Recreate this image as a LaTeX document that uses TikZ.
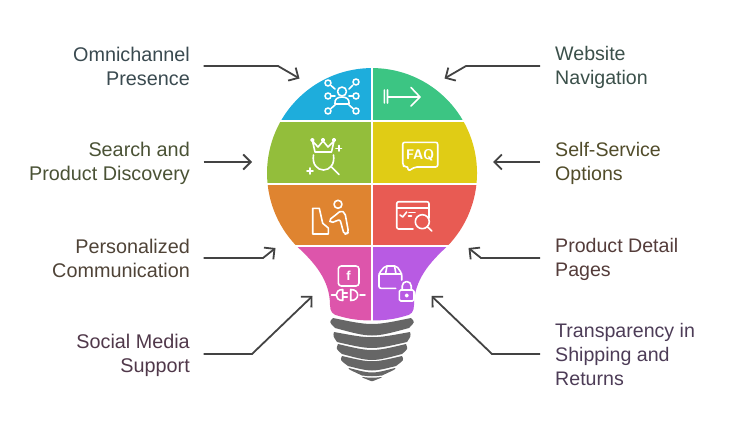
\documentclass[tikz,border=0pt]{standalone}
\usepackage{fontspec}
\setmainfont{Liberation Sans}
\usetikzlibrary{arrows.meta}
\definecolor{cellblue}{HTML}{1EADDC}
\definecolor{cellgreen}{HTML}{3CC583}
\definecolor{cellolive}{HTML}{93BE3B}
\definecolor{cellyellow}{HTML}{E0CC15}
\definecolor{cellorange}{HTML}{DF8430}
\definecolor{cellred}{HTML}{E85B53}
\definecolor{cellpink}{HTML}{DD55AB}
\definecolor{cellpurple}{HTML}{B85BE3}
\definecolor{basegrey}{HTML}{666666}
\definecolor{arrowgrey}{HTML}{434343}
\definecolor{textomni}{HTML}{3A4A50}
\definecolor{textsearch}{HTML}{4A5235}
\definecolor{textpersonal}{HTML}{4F4337}
\definecolor{textsocial}{HTML}{50384A}
\definecolor{textweb}{HTML}{3B504A}
\definecolor{textself}{HTML}{514C2A}
\definecolor{textdetail}{HTML}{543C3A}
\definecolor{textship}{HTML}{4D3C57}
\newcommand{\ls}{\rule[-3pt]{0pt}{20pt}}
\tikzset{
  leftlabel/.style={anchor=east,align=right,inner xsep=13.5pt,inner ysep=0pt,font=\fontsize{19.8}{24}\selectfont},
  rightlabel/.style={anchor=west,align=left,inner xsep=15pt,inner ysep=0pt,font=\fontsize{19.6}{24}\selectfont},
  pointer/.style={arrowgrey,line width=1.8pt,-{Straight Barb[length=7.5pt,width=15pt,line width=1.8pt]}},
  icon/.style={white,line width=1.6pt,line cap=round,line join=round}
}
\begin{document}
\begin{tikzpicture}[x=1pt,y=-1pt]
\useasboundingbox (0,0) rectangle (732,439);

%%% BULB CELLS %%%
\begin{scope}
\clip (296.5,246) arc[start angle=136,end angle=404,radius=105]
  .. controls (430,262) and (414,280) .. (414,305)
  .. controls (414,312) and (411,315) .. (405,316)
  .. controls (395,319) and (385,320.5) .. (372,320.5)
  .. controls (359,320.5) and (349,319) .. (339,316)
  .. controls (333,315) and (330,312) .. (330,305)
  .. controls (330,280) and (314,262) .. (296.5,246);
\foreach \x/\y/\w/\h/\c in {
  260/60/111/60/cellblue, 373/60/111/60/cellgreen,
  260/122/111/61/cellolive, 373/122/111/61/cellyellow,
  260/185/111/60/cellorange, 373/185/111/60/cellred,
  260/247/111/78/cellpink, 373/247/111/78/cellpurple}{
\fill[\c] (\x,\y) rectangle ++(\w,\h);
}
\end{scope}

%%% BASE %%%
\foreach \wa/\ta/\ca/\wm/\ym/\wb/\tb/\cb in {
  39/318/326/43/322/37/328/338,
  38/332/339/39/336/35/342/350,
  34/344/352/36/349/30/354/362,
  30/356/363/32/360/24/366/372,
  23/368/374/24/369/10/375.5/376.5,
  10/377/378/10/377.5/1/381/381}{
\fill[basegrey] ({372-\wa},\ta) .. controls (372,\ca) .. ({372+\wa},\ta)
  .. controls ({372+\wm},\ym) .. ({372+\wb},\tb)
  .. controls (372,\cb) .. ({372-\wb},\tb)
  .. controls ({372-\wm},\ym) .. cycle;
}

%%% LABELS %%%
\node[leftlabel,text=textomni] (omni) at (203.5,66) {Omnichannel\ls\\Presence\ls};
\node[leftlabel,text=textsearch] (search) at (203.5,162) {Search and\ls\\Product Discovery\ls};
\node[leftlabel,text=textpersonal] (personal) at (203.5,258) {Personalized\ls\\Communication\ls};
\node[leftlabel,text=textsocial] (social) at (203.5,354) {Social Media\ls\\Support\ls};
\node[rightlabel,text=textweb] (web) at (540,66) {Website\ls\\Navigation\ls};
\node[rightlabel,text=textself] (self) at (540,162) {Self-Service\ls\\Options\ls};
\node[rightlabel,text=textdetail] (detail) at (540,258) {Product Detail\ls\\Pages\ls};
\node[rightlabel,text=textship] (ship) at (540,354) {Transparency in\ls\\Shipping and\ls\\Returns\ls};

%%% POINTERS %%%
\coordinate (omnitip) at (299.5,78.5);
\coordinate (webtip) at (444.5,78.5);
\coordinate (searchtip) at (252,162);
\coordinate (selftip) at (493,162);
\coordinate (personaltip) at (275.5,248);
\coordinate (detailtip) at (468.5,248);
\coordinate (socialtip) at (312.5,296);
\coordinate (shiptip) at (431.5,296);
\draw[pointer] (omni.east) -- (278,66) -- (omnitip);
\draw[pointer] (web.west) -- (466,66) -- (webtip);
\draw[pointer] (search.east) -- (searchtip);
\draw[pointer] (self.west) -- (selftip);
\draw[pointer] (personal.east) -- (263,258) -- (personaltip);
\draw[pointer] (detail.west) -- (481,258) -- (detailtip);
\draw[pointer] (social.east) -- (252,354) -- (socialtip);
\draw[pointer] (ship.west) -- (492,354) -- (shiptip);

%%% ICON NETWORK %%%
\draw[icon] (342,91.5) circle [radius=4.5];
\draw[icon] (335,104) .. controls (334,99) and (338,97) .. (342,97) .. controls (346,97) and (350,99) .. (349,104) -- cycle;
\foreach \x/\y/\a/\b in {328/83/335/89, 356/82/349/89, 328/96/335/96, 356/96/349/96, 328/111/335/105, 356/111/349/105}{
\draw[icon] (\x,\y) circle [radius=3];
\draw[icon] ({\x+(\a-\x)*0.45},{\y+(\b-\y)*0.45}) -- (\a,\b);
}

%%% ICON ARROW %%%
\draw[icon] (384.3,90) -- (384.3,103) (387.5,90) -- (387.5,103) (388,97) -- (420,97) (411,87.5) -- (420,97) -- (411,106);

%%% ICON CROWN %%%
\draw[icon] (315,152) -- (312.5,141) -- (318,147) -- (323,141) -- (328,147) -- (334,141) -- (331.5,152) -- cycle;
\foreach \x in {312.3,323,334}{
\draw[icon] (\x,140) circle [radius=1.4];
}
\draw[icon] (313.5,155) .. controls (312,164) and (317,170) .. (323.5,170) .. controls (330,170) and (335,164) .. (333.5,155);
\draw[icon] (331.5,167) -- (339,174.5);
\draw[icon] (338.7,145.5) -- (338.7,151) (336,148.3) -- (341.5,148.3);
\draw[icon] (310,168) -- (310,174) (307,171) -- (313,171);

%%% ICON FAQ %%%
\draw[icon,rounded corners=2pt] (407,167) -- (404.5,167) -- (402.7,165) -- (402.7,142.3) -- (437.7,142.3) -- (437.7,167) -- (415,167) -- (408.5,171) -- (407.5,167);
\node[text=white,inner sep=0pt,font=\sffamily\bfseries\fontsize{14}{14}\selectfont] (faq) at (420,155) {FAQ};

%%% ICON SEAT %%%
\draw[icon] (312.7,208.3) -- (319.3,208.3) -- (322.7,223.3) -- (328.3,228) -- (328.3,234) -- (312.7,234) -- cycle;
\draw[icon] (338,204.3) circle [radius=4];
\draw[icon,rounded corners=2pt] (329,220) -- (335,215.5) -- (341,210.5) -- (345,213) -- (348.5,232) -- (347,234) -- (344,234) -- (340,219.5) -- (331,223) -- cycle;

%%% ICON PAGE %%%
\draw[icon,rounded corners=2pt] (429,218) -- (429,201.7) -- (396.7,201.7) -- (396.7,229) -- (413,229);
\draw[icon] (396.7,208) -- (429,208);
\draw[icon] (400,215) -- (402.7,217) -- (406.7,212);
\draw[icon] (409,212.3) -- (415,212.3) (408.5,216) -- (411.5,216);
\draw[icon] (422.3,221.7) circle [radius=7];
\draw[icon] (427.2,226.6) -- (431.7,231);

%%% ICON PLUG %%%
\draw[icon,rounded corners=3pt] (338.3,266) rectangle (359,286);
\node[text=white,inner sep=0pt,font=\bfseries\fontsize{13}{13}\selectfont] (fb) at (348.5,276) {f};
\draw[icon] (331.5,295) -- (336,295) (360,295) -- (365,295);
\draw[icon] (342.7,289.5) .. controls (334,289.5) and (334,300.5) .. (342.7,300.5) -- cycle;
\draw[icon] (342.7,293) -- (347.3,293) (342.7,297) -- (347.3,297);
\draw[icon] (350.7,289.5) .. controls (360,289.5) and (360,300.5) .. (350.7,300.5) -- cycle;

%%% ICON BOX %%%
\draw[icon,rounded corners=2pt] (395.7,288.3) -- (379,288.3) -- (379,273.5) -- (385,266) -- (396.7,266) -- (401.7,273.5) -- (401.7,280);
\draw[icon] (379,274) -- (401.7,274) (387,266) -- (385.5,274) (394.5,266) -- (396,274);
\draw[icon,rounded corners=1.5pt] (399.3,290) rectangle (414,301);
\draw[icon] (402.2,290) -- (402.2,286) arc[start angle=180,end angle=360,radius=4.5] -- (411.2,290);
\draw[icon] (406.7,295.5) circle [radius=1.3];
\end{tikzpicture}
\end{document}
